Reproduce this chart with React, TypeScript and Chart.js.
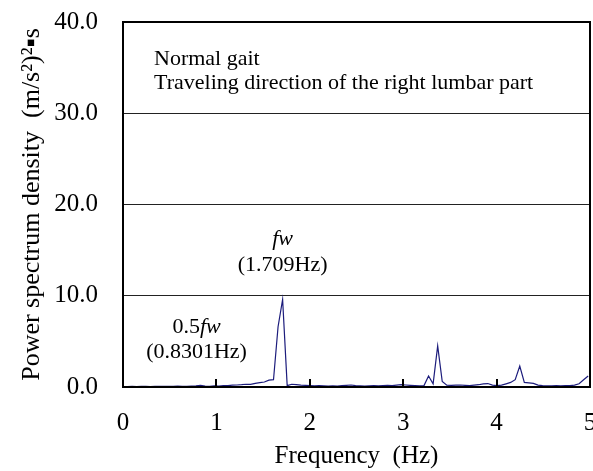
import React, { useEffect, useRef } from "react";
import { Chart, registerables } from "chart.js";

Chart.register(...registerables);

// Spectrum bins: 100 Hz sampling, 2048-point FFT
const FREQ_STEP = 100 / 2048;

// Power spectrum density per bin, (m/s^2)^2·s
const PSD = [
  0.05, 0.04, 0.06, 0.05, 0.08, 0.06, 0.05, 0.07, 0.06, 0.08,
  0.07, 0.06, 0.09, 0.08, 0.07, 0.1, 0.12, 0.18, 0.1, 0.08,
  0.12, 0.1, 0.14, 0.16, 0.2, 0.22, 0.25, 0.3, 0.28, 0.4,
  0.48, 0.55, 0.75, 0.8, 6.6, 9.6, 0.15, 0.3, 0.25, 0.2,
  0.18, 0.15, 0.12, 0.14, 0.12, 0.1, 0.12, 0.1, 0.14, 0.18,
  0.22, 0.15, 0.12, 0.1, 0.12, 0.14, 0.12, 0.15, 0.18, 0.16,
  0.2, 0.25, 0.22, 0.18, 0.15, 0.12, 0.15, 1.2, 0.35, 4.5,
  0.6, 0.2, 0.18, 0.2, 0.22, 0.18, 0.15, 0.2, 0.25, 0.35,
  0.38, 0.2, 0.15, 0.2, 0.35, 0.5, 0.8, 2.3, 0.5, 0.45,
  0.4, 0.2, 0.15, 0.12, 0.12, 0.15, 0.12, 0.14, 0.15, 0.2,
  0.35, 0.8, 1.2,
];

const X_MIN = 0;
const X_MAX = 5;
const Y_MIN = 0;
const Y_MAX = 40;
const Y_STEP = 10;
const INNER_TICKS = [1, 2, 3, 4];

const CAPTION_LINES = ["Normal gait", "Traveling direction of the right lumbar part"];
const FUNDAMENTAL_HZ = 1.709;
const HALF_HZ = 0.8301;

const SERIF = "'Liberation Serif', 'Times New Roman', serif";

const overlay = {
  id: "overlay",
  afterDatasetsDraw(chart: any) {
    const { ctx, chartArea: a, scales } = chart;
    const x = scales.x;
    const y = scales.y;
    ctx.save();

    // frame around the plot
    ctx.strokeStyle = "#000";
    ctx.lineWidth = 2;
    ctx.strokeRect(a.left, a.top, a.right - a.left, a.bottom - a.top);

    // short inward ticks on the frequency axis
    ctx.fillStyle = "#000";
    INNER_TICKS.forEach((v) => {
      const px = Math.round(x.getPixelForValue(v));
      ctx.fillRect(px - 1, a.bottom - 8, 2, 8);
    });

    const regular = `22px ${SERIF}`;
    const italic = `italic 22px ${SERIF}`;
    ctx.textBaseline = "alphabetic";

    // caption
    ctx.font = regular;
    ctx.textAlign = "left";
    ctx.fillText(CAPTION_LINES[0], a.left + 31, a.top + 43);
    ctx.fillText(CAPTION_LINES[1], a.left + 31, a.top + 67);

    // mixed regular / italic label centred at cx
    const drawMixed = (parts: [string, string][], cx: number, by: number) => {
      let total = 0;
      parts.forEach(([t, f]) => {
        ctx.font = f;
        total += ctx.measureText(t).width;
      });
      let cur = cx - total / 2;
      ctx.textAlign = "left";
      parts.forEach(([t, f]) => {
        ctx.font = f;
        ctx.fillText(t, cur, by);
        cur += ctx.measureText(t).width;
      });
    };

    const fx = x.getPixelForValue(FUNDAMENTAL_HZ);
    drawMixed([["fw", italic]], fx, y.getPixelForValue(15.6));
    drawMixed([[`(${FUNDAMENTAL_HZ}Hz)`, regular]], fx, y.getPixelForValue(12.7));

    const hx = x.getPixelForValue(HALF_HZ) - 4;
    drawMixed([["0.5", regular], ["fw", italic]], hx, y.getPixelForValue(5.9));
    drawMixed([[`(${HALF_HZ}Hz)`, regular]], hx, y.getPixelForValue(3.2));

    ctx.restore();
  },
};

export default function App() {
  const ref = useRef<HTMLCanvasElement | null>(null);

  useEffect(() => {
    if (!ref.current) return;
    const points = PSD.map((v, i) => ({ x: i * FREQ_STEP, y: v }));
    const chart = new Chart(ref.current, {
      type: "line",
      data: {
        datasets: [
          {
            data: points,
            borderColor: "#1c1c7c",
            borderWidth: 1.2,
            pointRadius: 0,
            tension: 0,
            fill: false,
          },
        ],
      },
      options: {
        animation: false,
        responsive: false,
        events: [],
        layout: { padding: { top: 22, right: 3, left: 0, bottom: 0 } },
        plugins: { legend: { display: false }, tooltip: { enabled: false } },
        scales: {
          x: {
            type: "linear",
            min: X_MIN,
            max: X_MAX,
            ticks: {
              stepSize: 1,
              padding: 21,
              color: "#000",
              font: { family: SERIF, size: 25 },
              callback: (v: any) => String(v),
            },
            grid: { display: false, drawTicks: false },
            border: { display: false },
            title: {
              display: true,
              text: "Frequency  (Hz)",
              color: "#000",
              font: { family: SERIF, size: 25 },
              padding: { top: 0, bottom: 0 },
            },
            afterFit: (s: any) => {
              s.height = 84;
              s.paddingLeft = 0;
              s.paddingRight = 0;
            },
          },
          y: {
            min: Y_MIN,
            max: Y_MAX,
            ticks: {
              stepSize: Y_STEP,
              padding: 25,
              color: "#000",
              font: { family: SERIF, size: 25 },
              callback: (v: any) => Number(v).toFixed(1),
            },
            grid: { color: "#222", lineWidth: 1, drawTicks: false },
            border: { display: false },
            title: {
              display: true,
              text: "Power spectrum density  (m/s\u00b2)\u00b2\u25aas",
              color: "#000",
              font: { family: SERIF, size: 26 },
              padding: { top: 17, bottom: 0 },
            },
            afterFit: (s: any) => {
              s.width = 123;
              s.paddingTop = 0;
              s.paddingBottom = 0;
            },
          },
        },
      },
      plugins: [overlay],
    });
    return () => chart.destroy();
  }, []);

  return (
    <div style={{ position: "absolute", left: 0, top: 0, width: 593, height: 471 }}>
      <canvas ref={ref} width={593} height={471} style={{ display: "block" }} />
    </div>
  );
}
